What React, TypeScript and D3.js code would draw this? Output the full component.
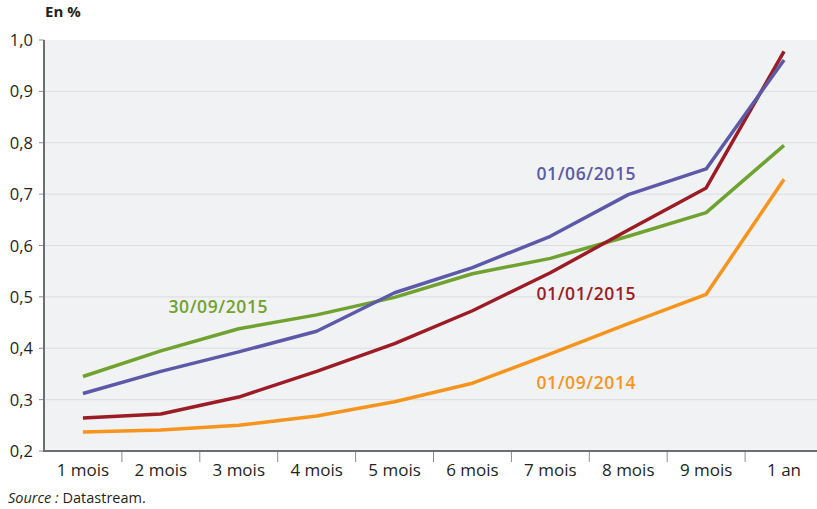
import React from "react";
import * as d3 from "d3";

const categories = ["1 mois", "2 mois", "3 mois", "4 mois", "5 mois", "6 mois", "7 mois", "8 mois", "9 mois", "1 an"];
const s20150601 = [0.312, 0.355, 0.393, 0.433, 0.508, 0.557, 0.618, 0.699, 0.749, 0.961];
const s20150101 = [0.264, 0.272, 0.305, 0.355, 0.409, 0.473, 0.547, 0.63, 0.712, 0.978];
const s20150930 = [0.345, 0.395, 0.438, 0.465, 0.499, 0.545, 0.575, 0.618, 0.664, 0.795];
const s20140901 = [0.237, 0.241, 0.25, 0.268, 0.296, 0.332, 0.389, 0.448, 0.505, 0.729];
const yTicks = [0.2, 0.3, 0.4, 0.5, 0.6, 0.7, 0.8, 0.9, 1.0];

const series = [
  { name: "01/09/2014", values: s20140901, color: "#f7941d", lx: 586, ly: 389 },
  { name: "30/09/2015", values: s20150930, color: "#6fa22f", lx: 218, ly: 313 },
  { name: "01/01/2015", values: s20150101, color: "#9b1c24", lx: 586, ly: 300 },
  { name: "01/06/2015", values: s20150601, color: "#5c5aa8", lx: 586, ly: 180 },
];

const W = 817;
const H = 509;
const left = 44;
const right = 823;
const top = 40;
const bottom = 451;
const font = "'Open Sans', 'Noto Sans', sans-serif";

export default function App() {
  const x = d3.scaleBand<string>().domain(categories).range([left, right]);
  const y = d3.scaleLinear().domain([0.2, 1.0]).range([bottom, top]);
  const line = d3
    .line<number>()
    .x((_, i) => (x(categories[i]) as number) + x.bandwidth() / 2)
    .y((d) => y(d));
  const fmt = (v: number) => v.toFixed(1).replace(".", ",");

  return (
    <svg width={W} height={H} style={{ position: "absolute", left: 0, top: 0, background: "#fff" }}>
      <rect x={left} y={top} width={right - left} height={bottom - top} fill="#f1f2f4" />
      {yTicks.slice(1, -1).map((t) => (
        <line key={t} x1={left} x2={right} y1={y(t)} y2={y(t)} stroke="#dcdde0" strokeWidth={1} />
      ))}
      {yTicks.map((t) => (
        <g key={"t" + t}>
          <line x1={left - 5} x2={left} y1={y(t)} y2={y(t)} stroke="#8a8b8e" strokeWidth={1} />
          <text x={33} y={y(t) + 6} textAnchor="end" fontFamily={font} fontSize={16.5} fill="#231f20">
            {fmt(t)}
          </text>
        </g>
      ))}
      {categories.slice(1).map((c) => (
        <line key={"x" + c} x1={x(c)} x2={x(c)} y1={bottom} y2={bottom + 11} stroke="#8a8b8e" strokeWidth={1} />
      ))}
      {categories.map((c) => (
        <text
          key={"l" + c}
          x={(x(c) as number) + x.bandwidth() / 2}
          y={476}
          textAnchor="middle"
          fontFamily={font}
          fontSize={17}
          fill="#231f20"
        >
          {c}
        </text>
      ))}
      <line x1={left} x2={left} y1={top} y2={bottom + 1} stroke="#6d6e71" strokeWidth={2} />
      <line x1={left - 1} x2={right} y1={bottom} y2={bottom} stroke="#6d6e71" strokeWidth={2} />
      {series.map((s) => (
        <path key={s.name} d={line(s.values) as string} fill="none" stroke={s.color} strokeWidth={3.5} strokeLinejoin="round" />
      ))}
      {series.map((s) => (
        <text
          key={"n" + s.name}
          x={s.lx}
          y={s.ly}
          textAnchor="middle"
          fontFamily={font}
          fontWeight={600}
          fontSize={17.5}
          textLength={99}
          lengthAdjust="spacing"
          fill={s.color}
        >
          {s.name}
        </text>
      ))}
      <text x={45} y={17} fontFamily={font} fontWeight={700} fontSize={15} fill="#231f20">
        En %
      </text>
      <text x={8} y={503} fontFamily={font} fontSize={14.5} fill="#231f20">
        <tspan fontStyle="italic">Source :</tspan> Datastream.
      </text>
    </svg>
  );
}
